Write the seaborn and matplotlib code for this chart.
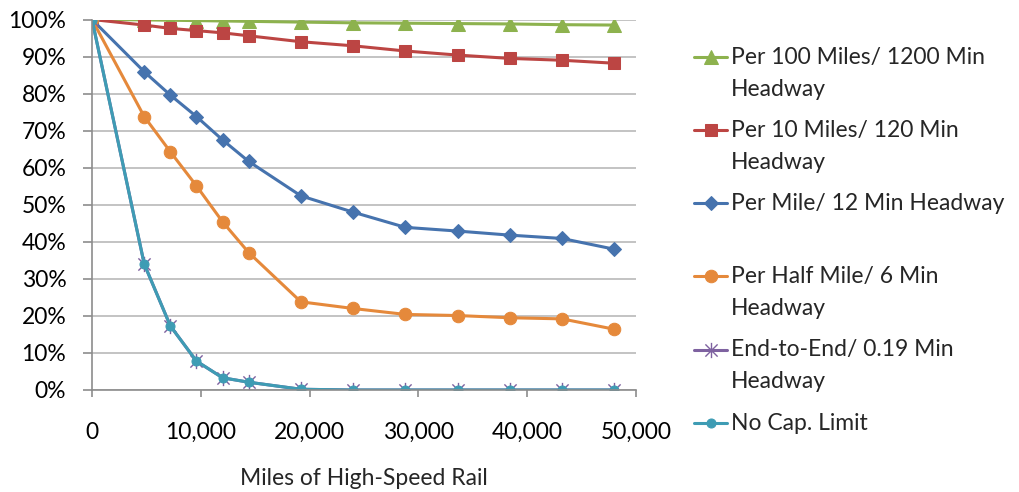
import numpy as np
import matplotlib
matplotlib.use("Agg")
import matplotlib.pyplot as plt
import seaborn as sns
from matplotlib.path import Path
from matplotlib.ticker import PercentFormatter, FuncFormatter, MultipleLocator

# ---- data ----
miles = [0, 4800, 7200, 9600, 12000, 14400, 19200, 24000, 28800, 33600, 38400, 43200, 48000]
per_100_miles = [100, 99.9, 99.8, 99.7, 99.6, 99.5, 99.3, 99.1, 99.0, 98.9, 98.8, 98.6, 98.5]
per_10_miles = [100, 98.5, 97.6, 97.0, 96.4, 95.6, 94.0, 92.9, 91.5, 90.4, 89.5, 89.0, 88.2]
per_mile = [100, 85.9, 79.6, 73.8, 67.5, 61.7, 52.4, 48.0, 43.9, 42.9, 41.8, 40.9, 38.0]
per_half_mile = [100, 73.8, 64.3, 55.1, 45.4, 37.1, 23.8, 22.0, 20.4, 20.1, 19.5, 19.2, 16.4]
end_to_end = [100, 34.0, 17.3, 7.8, 3.3, 2.1, 0.2, 0.0, 0.0, 0.0, 0.0, 0.0, 0.0]
no_cap = [100, 34.0, 17.3, 7.8, 3.3, 2.1, 0.2, 0.0, 0.0, 0.0, 0.0, 0.0, 0.0]

labels = [
    "Per 100 Miles/ 1200 Min\nHeadway",
    "Per 10 Miles/ 120 Min\nHeadway",
    "Per Mile/ 12 Min Headway\n",
    "Per Half Mile/ 6 Min\nHeadway",
    "End-to-End/ 0.19 Min\nHeadway",
    "No Cap. Limit",
]
x_ticks = [0, 10000, 20000, 30000, 40000, 50000]
x_label = "Miles of High-Speed Rail"

# ---- style ----
sns.set_style("white")
plt.rcParams["font.family"] = ["Lato", "DejaVu Sans"]
FS = 16.5

star = Path([(-1, -1), (1, 1), (-1, 1), (1, -1), (0, -1.25), (0, 1.25)],
            [Path.MOVETO, Path.LINETO, Path.MOVETO, Path.LINETO, Path.MOVETO, Path.LINETO])

series = [
    (per_100_miles, "#8DB24E", "^", 9.5, {}),
    (per_10_miles, "#BC4543", "s", 8.5, {}),
    (per_mile, "#4673AE", "D", 7, {}),
    (per_half_mile, "#E5893B", "o", 9, {}),
    (end_to_end, "#7E62A0", star, 11, {"markerfacecolor": "none", "markeredgewidth": 1.0}),
    (no_cap, "#3E9CB4", "o", 6.5, {}),
]

fig = plt.figure(figsize=(10.19, 4.92), dpi=100)
ax = fig.add_axes([92 / 1019, 102 / 492, 544 / 1019, 370.5 / 492])

for (vals, col, mk, ms, extra), lab in zip(series, labels):
    y = np.array(vals) / 100.0
    sns.lineplot(x=miles, y=y, ax=ax, color=col, marker=mk, markersize=ms,
                 linewidth=2.2, label=lab, markeredgecolor=col, **extra)

ax.set_xlim(0, 50000)
ax.set_ylim(0, 1.0)
ax.set_xticks(x_ticks)
ax.xaxis.set_major_formatter(FuncFormatter(lambda v, p: f"{int(v):,}"))
ax.yaxis.set_major_locator(MultipleLocator(0.1))
ax.yaxis.set_major_formatter(PercentFormatter(1.0, decimals=0))
ax.grid(axis="y", color="#BEBEBE", linewidth=1.3)
ax.grid(axis="x", visible=False)
ax.set_axisbelow(True)
for s in ["top", "right"]:
    ax.spines[s].set_visible(False)
for s in ["left", "bottom"]:
    ax.spines[s].set_color("#8C8C8C")
    ax.spines[s].set_linewidth(1.2)
ax.tick_params(axis="both", which="major", direction="out", width=1.2,
               color="#8C8C8C", labelsize=FS, labelcolor="black", left=True, bottom=True)
ax.tick_params(axis="y", length=6.5, pad=12)
ax.tick_params(axis="x", length=5, pad=18)
ax.set_xlabel(x_label, fontsize=FS, labelpad=18)
ax.set_ylabel("")

handles, labs = ax.get_legend_handles_labels()
leg = ax.legend(handles, labs, loc="upper left", bbox_to_anchor=(694 / 1019, 445 / 492),
                bbox_transform=fig.transFigure, frameon=False, fontsize=FS,
                handlelength=1.45, handletextpad=0.17, labelspacing=0.89,
                borderaxespad=0, borderpad=0, handleheight=1.3)
for vp in leg._legend_handle_box.get_children():
    for hp in vp.get_children():
        hp.align = "top"
for t in leg.get_texts():
    t.set_linespacing(1.63)

fig.savefig("out.png", dpi=100)
